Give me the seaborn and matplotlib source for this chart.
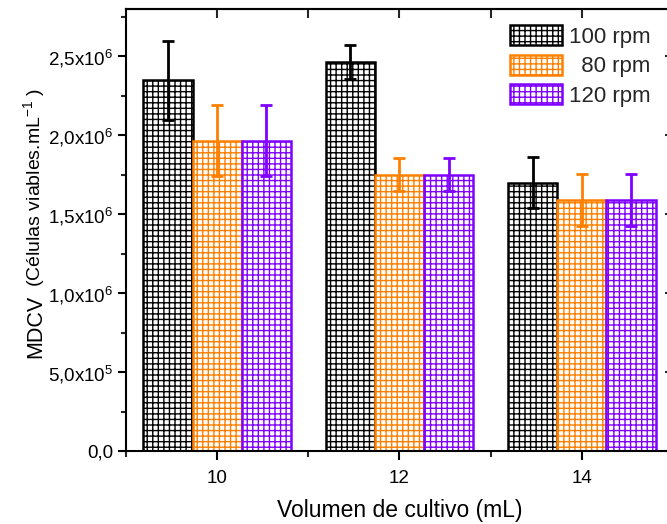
import numpy as np
import pandas as pd
import matplotlib
matplotlib.use("Agg")
import matplotlib.pyplot as plt
from matplotlib.ticker import MultipleLocator, FixedLocator, FuncFormatter
import seaborn as sns

# ---- data ----
volumes = ["10", "12", "14"]
speeds = ["100 rpm", "80 rpm", "120 rpm"]
legend_labels = ["100 rpm", "  80 rpm", "120 rpm"]
mdcv_100 = [2.35e6, 2.465e6, 1.70e6]
mdcv_80 = [1.965e6, 1.75e6, 1.59e6]
mdcv_120 = [1.965e6, 1.75e6, 1.59e6]
err_100 = [0.25e6, 0.107e6, 0.16e6]
err_80 = [0.225e6, 0.105e6, 0.165e6]
err_120 = [0.225e6, 0.105e6, 0.165e6]
colors = ["#000000", "#FF8000", "#8000FF"]

values = [mdcv_100, mdcv_80, mdcv_120]
errors = [err_100, err_80, err_120]

df = pd.DataFrame({
    "volumen": volumes * 3,
    "rpm": [s for s in speeds for _ in volumes],
    "mdcv": mdcv_100 + mdcv_80 + mdcv_120,
})

sns.set_theme(style="ticks")
plt.rcParams["font.family"] = ["Liberation Sans", "DejaVu Sans"]
plt.rcParams["mathtext.fontset"] = "custom"
plt.rcParams["mathtext.rm"] = "Liberation Sans"
plt.rcParams["hatch.linewidth"] = 1.0

W, H = 667, 524
fig = plt.figure(figsize=(W / 100, H / 100), dpi=100)
ax = fig.add_axes([126 / W, (H - 451) / H, (673 - 126) / W, (451 - 9) / H])

sns.barplot(data=df, x="volumen", y="mdcv", hue="rpm", order=volumes,
            hue_order=speeds, palette=colors, width=0.81, errorbar=None,
            saturation=1, ax=ax, legend=False)

# hatched open bars with coloured grid and edges, plus error bars
for cont, col, vals, errs in zip(ax.containers, colors, values, errors):
    for p in cont:
        p.set_facecolor("white")
        p.set_edgecolor(col)
        p.set_hatch("+++")
        p.set_linewidth(1.8)
    xs = [p.get_x() + p.get_width() / 2 for p in cont]
    ax.errorbar(xs, vals, yerr=errs, fmt="none", ecolor=col,
                elinewidth=2.0, capsize=4.5, capthick=2.0, zorder=3)

ax.set_xlim(-0.5, 2.5)
ax.set_ylim(0, 2.8e6)


def sci_comma(v, pos):
    if abs(v) < 1:
        return "0,0"
    e = int(np.floor(np.log10(abs(v))))
    m = v / 10 ** e
    return f"{m:.1f}".replace(".", ",") + r"x10$^{\mathregular{%d}}$" % e


ax.yaxis.set_major_locator(MultipleLocator(5e5))
ax.yaxis.set_minor_locator(MultipleLocator(2.5e5))
ax.yaxis.set_major_formatter(FuncFormatter(sci_comma))
ax.xaxis.set_minor_locator(FixedLocator([-0.5, 0.5, 1.5, 2.5]))

for s in ax.spines.values():
    s.set_linewidth(1.5)
    s.set_color("black")

ax.tick_params(axis="y", which="major", direction="out", length=6, width=1.5,
               labelsize=13.5, pad=3, colors="black")
ax.tick_params(axis="y", which="minor", direction="out", length=3.5, width=1.5)
ax.tick_params(axis="x", which="major", direction="out", length=6.5, width=1.5,
               labelsize=13.5, pad=7, colors="black")
ax.tick_params(axis="x", which="minor", direction="out", length=4.3, width=1.5)

# mirrored inward ticks on top and right
top = ax.secondary_xaxis("top")
top.set_xticks([0, 0.5, 1, 1.5, 2])
top.set_xticklabels([])
top.tick_params(direction="in", length=6.5, width=1.5)
top.spines["top"].set_linewidth(1.5)

right = ax.secondary_yaxis("right")
right.yaxis.set_major_locator(MultipleLocator(5e5))
right.yaxis.set_minor_locator(MultipleLocator(2.5e5))
right.tick_params(which="major", direction="in", length=6, width=1.5,
                  labelright=False)
right.tick_params(which="minor", direction="in", length=3.5, width=1.5)
right.set_yticklabels([])

ax.set_xlabel("Volumen de cultivo (mL)", fontsize=16.5, labelpad=9,
              color="black")
ax.set_ylabel("")

# y label with two font sizes
t1 = fig.text(41 / W, (H - 358) / H, "MDCV", rotation=90,
              rotation_mode="anchor", ha="left", va="baseline",
              fontsize=15.5, color="black")
renderer = fig.canvas.get_renderer()
bb = t1.get_window_extent(renderer)
fig.text(41 / W, (bb.y1 + 8) / H, r"(Células viables.mL$^{\mathregular{-1}}$ )",
         rotation=90, rotation_mode="anchor", ha="left", va="baseline",
         fontsize=14, color="black")

handles = list(ax.containers)
ax.legend(handles, legend_labels, loc="upper left",
          bbox_to_anchor=(510 / W, 1 - 25 / H), bbox_transform=fig.transFigure,
          frameon=False, fontsize=16, handlelength=2.35, handleheight=1.0,
          handletextpad=0.3, labelspacing=0.32, borderpad=0, borderaxespad=0)

fig.savefig("out.png", dpi=100)
